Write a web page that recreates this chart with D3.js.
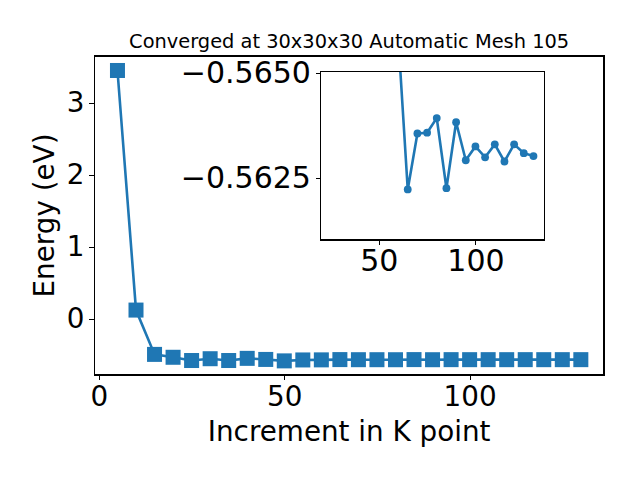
<!DOCTYPE html>
<meta charset="utf-8">
<style>
body { margin: 0; background: #fff; }
svg { font-family: "DejaVu Sans", sans-serif; }
.axis path, .axis line { fill: none; stroke: #000; stroke-width: 1.1; shape-rendering: crispEdges; }
</style>
<body>
<script src="https://cdn.jsdelivr.net/npm/d3@7"></script>
<script>
// k-point increments and total energies (eV)
var kpoints = [5, 10, 15, 20, 25, 30, 35, 40, 45, 50, 55, 60, 65,
               70, 75, 80, 85, 90, 95, 100, 105, 110, 115, 120, 125, 130];
var energy = [3.45, 0.125, -0.49, -0.53, -0.575, -0.55, -0.575, -0.545, -0.56, -0.58, -0.567, -0.56593, -0.56222,
              -0.56356, -0.56358, -0.56393, -0.56225, -0.56383, -0.56292, -0.56325, -0.56299, -0.56330, -0.56289, -0.56330, -0.56309, -0.56302];
var xTicks = [0, 50, 100];
var yTicks = [0, 1, 2, 3];
var insetXTicks = [50, 100];
var insetYTicks = [-0.5650, -0.5625];
var insetFrom = 55;

var data = kpoints.map(function(k, i) { return {k: k, e: energy[i]}; });
var blue = "#1f77b4";

var margin = {top: 56, right: 36, bottom: 105, left: 94.3},
    width = 640 - margin.left - margin.right,
    height = 480 - margin.top - margin.bottom;

var svg = d3.select("body").append("svg")
    .attr("width", 640)
    .attr("height", 480);

var g = svg.append("g")
    .attr("transform", "translate(" + margin.left + "," + margin.top + ")");

var x = d3.scaleLinear().domain([-1.25, 136.25]).range([0, width]);
var y = d3.scaleLinear().domain([-0.776, 3.651]).range([height, 0]);

var xAxis = d3.axisBottom(x).tickValues(xTicks).tickFormat(d3.format("d")).tickSize(4.9).tickPadding(4.9);
var yAxis = d3.axisLeft(y).tickValues(yTicks).tickFormat(d3.format("d")).tickSize(4.9).tickPadding(4.9);

var line = d3.line()
    .x(function(d) { return x(d.k); })
    .y(function(d) { return y(d.e); });

g.append("path")
    .datum(data)
    .attr("fill", "none")
    .attr("stroke", blue)
    .attr("stroke-width", 2.6)
    .attr("d", line);

g.selectAll(".sq")
    .data(data)
  .enter().append("rect")
    .attr("class", "sq")
    .attr("x", function(d) { return x(d.k) - 7.5; })
    .attr("y", function(d) { return y(d.e) - 7.5; })
    .attr("width", 15)
    .attr("height", 15)
    .attr("fill", blue);

g.append("rect")
    .attr("width", width)
    .attr("height", height)
    .attr("fill", "none")
    .attr("stroke", "#000")
    .attr("stroke-width", 1.1)
    .attr("shape-rendering", "crispEdges");

g.append("g")
    .attr("class", "x axis")
    .attr("transform", "translate(0," + height + ")")
    .call(xAxis)
    .call(function(a) { a.select(".domain").remove(); })
    .selectAll("text")
    .attr("font-family", "DejaVu Sans")
    .attr("font-size", 27.8)
    .attr("dy", "0.78em")
    .attr("fill", "#000");

g.append("g")
    .attr("class", "y axis")
    .call(yAxis)
    .call(function(a) { a.select(".domain").remove(); })
    .selectAll("text")
    .attr("font-family", "DejaVu Sans")
    .attr("font-size", 27.8)
    .attr("fill", "#000");

g.append("text")
    .attr("x", width / 2)
    .attr("y", 441 - margin.top)
    .attr("text-anchor", "middle")
    .style("font-size", "27.8px")
    .text("Increment in K point");

g.append("text")
    .attr("transform", "rotate(-90)")
    .attr("x", -height / 2)
    .attr("y", 54 - margin.left)
    .attr("text-anchor", "middle")
    .style("font-size", "27.8px")
    .text("Energy (eV)");

g.append("text")
    .attr("x", width / 2)
    .attr("y", -8.5)
    .attr("text-anchor", "middle")
    .style("font-size", "19.4px")
    .text("Converged at 30x30x30 Automatic Mesh 105");

// inset zoom on the converged tail
var inset = {left: 320.7, top: 71.7, width: 223.6, height: 168.3};
var ig = svg.append("g")
    .attr("transform", "translate(" + inset.left + "," + inset.top + ")");

var ix = d3.scaleLinear().domain([20, 135.6]).range([0, inset.width]);
var iy = d3.scaleLinear().domain([-0.56504, -0.56101]).range([0, inset.height]);

ig.append("rect")
    .attr("width", inset.width)
    .attr("height", inset.height)
    .attr("fill", "#fff");

ig.append("clipPath")
    .attr("id", "insetclip")
  .append("rect")
    .attr("width", inset.width)
    .attr("height", inset.height);

var tail = data.filter(function(d) { return d.k >= insetFrom; });

var iline = d3.line()
    .x(function(d) { return ix(d.k); })
    .y(function(d) { return iy(d.e); });

var plot = ig.append("g").attr("clip-path", "url(#insetclip)");

plot.append("path")
    .datum(tail)
    .attr("fill", "none")
    .attr("stroke", blue)
    .attr("stroke-width", 2.6)
    .attr("d", iline);

plot.selectAll(".dot")
    .data(tail)
  .enter().append("circle")
    .attr("class", "dot")
    .attr("r", 3.9)
    .attr("cx", function(d) { return ix(d.k); })
    .attr("cy", function(d) { return iy(d.e); })
    .attr("fill", blue);

ig.append("rect")
    .attr("width", inset.width)
    .attr("height", inset.height)
    .attr("fill", "none")
    .attr("stroke", "#000")
    .attr("stroke-width", 1.1)
    .attr("shape-rendering", "crispEdges");

ig.append("g")
    .attr("class", "x axis")
    .attr("transform", "translate(0," + inset.height + ")")
    .call(d3.axisBottom(ix).tickValues(insetXTicks).tickSize(4.9).tickPadding(4.9))
    .call(function(a) { a.select(".domain").remove(); })
    .selectAll("text")
    .attr("font-family", "DejaVu Sans")
    .attr("font-size", 30)
    .attr("fill", "#000");

ig.append("g")
    .attr("class", "y axis")
    .call(d3.axisLeft(iy).tickValues(insetYTicks).tickFormat(d3.format(".4f")).tickSize(4.9).tickPadding(4.9))
    .call(function(a) { a.select(".domain").remove(); })
    .selectAll("text")
    .attr("font-family", "DejaVu Sans")
    .attr("font-size", 30)
    .attr("fill", "#000");
</script>
